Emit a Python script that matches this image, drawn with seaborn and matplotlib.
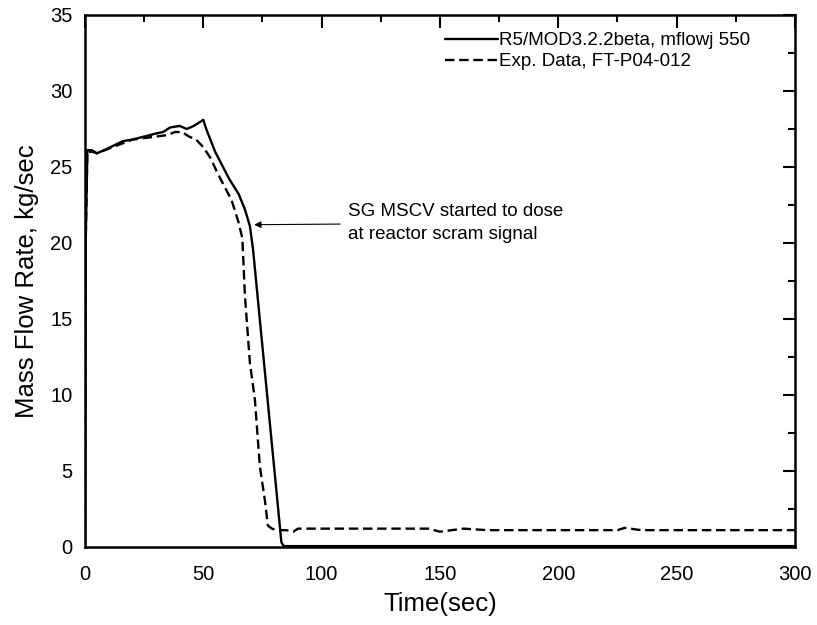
import numpy as np
import pandas as pd
import seaborn as sns
import matplotlib
matplotlib.use("Agg")
import matplotlib.pyplot as plt

# R5/MOD3.2.2beta calculation
time_sim = [0, 0.3, 1, 3, 5, 8, 12, 16, 20, 25, 30, 33, 36, 40, 43, 46, 48, 50, 51,
            53, 55, 57, 59, 61, 63, 65, 67.6, 69.7, 71, 83, 84, 300]
flow_sim = [0, 20, 26.1, 26.1, 25.9, 26.1, 26.4, 26.7, 26.8, 27.0, 27.2, 27.3, 27.6,
            27.7, 27.5, 27.7, 27.9, 28.1, 27.6, 26.8, 26.0, 25.4, 24.8, 24.2, 23.7,
            23.2, 22.2, 21.1, 19.6, 0.3, 0.05, 0.05]

# experimental data FT-P04-012
time_exp = [0, 0.3, 1, 3, 5, 10, 15, 20, 25, 30, 35, 38, 41, 44, 47, 50, 53, 56, 59,
            62, 65, 66.5, 67.6, 69.7, 71.8, 73.9, 76, 77.3, 79, 81, 85, 88, 90, 95,
            100, 120, 145, 150, 155, 160, 170, 200, 225, 228, 235, 260, 300]
flow_exp = [0, 20, 26.0, 26.0, 25.9, 26.2, 26.5, 26.8, 26.9, 27.0, 27.1, 27.3, 27.3,
            27.0, 26.8, 26.3, 25.6, 24.6, 23.7, 22.8, 21.3, 20.3, 16.5, 12.1, 9.7,
            5.3, 3.1, 1.4, 1.2, 1.1, 1.1, 1.0, 1.2, 1.2, 1.2, 1.2, 1.2, 1.0, 1.1,
            1.2, 1.1, 1.1, 1.1, 1.25, 1.1, 1.1, 1.1]

labels = ["R5/MOD3.2.2beta, mflowj 550", "Exp. Data, FT-P04-012"]

df = pd.concat([
    pd.DataFrame({"t": time_sim, "w": flow_sim, "case": labels[0]}),
    pd.DataFrame({"t": time_exp, "w": flow_exp, "case": labels[1]}),
])

sns.set_theme(style="white")
plt.rcParams["font.family"] = ["Liberation Sans", "DejaVu Sans"]
plt.rcParams["text.color"] = "black"
plt.rcParams["axes.labelcolor"] = "black"
plt.rcParams["xtick.color"] = "black"
plt.rcParams["ytick.color"] = "black"

fig = plt.figure(figsize=(8.17, 6.25), dpi=100)
ax = fig.add_axes([0.104, 0.125, 0.869, 0.851])

sns.lineplot(data=df, x="t", y="w", hue="case", style="case",
             palette=["black", "black"], dashes=[(None, None), (4, 2)],
             linewidth=1.7, sort=False, estimator=None, ax=ax)

ax.set_xlim(0, 300)
ax.set_ylim(0, 35)
ax.set_xticks(np.arange(0, 301, 50))
ax.set_yticks(np.arange(0, 36, 5))
ax.set_xticks(np.arange(0, 301, 25), minor=True)
ax.set_yticks(np.arange(0, 35.1, 2.5), minor=True)
ax.tick_params(which="both", direction="in", top=True, right=True,
               labelsize=14.5, width=1.5)
ax.tick_params(axis="x", pad=13)
ax.tick_params(axis="y", pad=9)
ax.tick_params(which="major", length=9)
ax.tick_params(which="minor", length=5)
for s in ax.spines.values():
    s.set_color("black")
    s.set_linewidth(1.8)

ax.set_xlabel("Time(sec)", fontsize=18.5, labelpad=6)
ax.set_ylabel("Mass Flow Rate, kg/sec", fontsize=18.5, labelpad=8)

leg = ax.legend(loc="upper right", bbox_to_anchor=(0.948, 0.982), frameon=False,
                fontsize=13.5, handlelength=2.8, handletextpad=0.1,
                labelspacing=0.2, borderaxespad=0)
leg.set_title(None)

ax.annotate("SG MSCV started to dose\nat reactor scram signal",
            xy=(71.5, 21.2), xytext=(111, 21.3), fontsize=13.5, va="center",
            linespacing=1.45,
            arrowprops=dict(arrowstyle="-|>", color="black", lw=0.8,
                            shrinkA=3, shrinkB=0, mutation_scale=10))

fig.savefig("out.png", dpi=100)
